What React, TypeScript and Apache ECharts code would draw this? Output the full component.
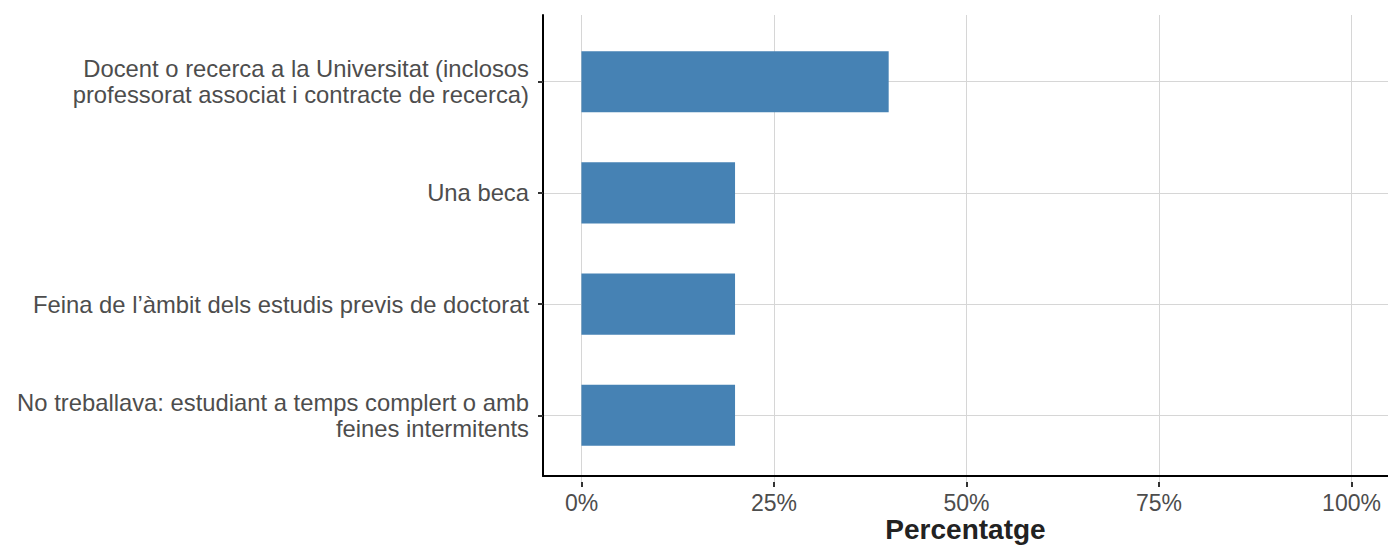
import React, { useEffect, useRef } from "react";
import * as echarts from "echarts";

const categories = [
  "Docent o recerca a la Universitat (inclosos\nprofessorat associat i contracte de recerca)",
  "Una beca",
  "Feina de l\u2019\u00e0mbit dels estudis previs de doctorat",
  "No treballava: estudiant a temps complert o amb\nfeines intermitents",
];
const percentages = [40, 20, 20, 20];
const xTicks = [0, 25, 50, 75, 100];
const xTitle = "Percentatge";

const FONT = "'Liberation Sans', Arial, sans-serif";

export default function App() {
  const ref = useRef<HTMLDivElement>(null);
  useEffect(() => {
    if (!ref.current) return;
    const chart = echarts.init(ref.current, null, { renderer: "svg" });
    const top = 15;
    const bottom = 482;
    const band = (bottom - top) / 4.2;
    chart.setOption({
      animation: false,
      backgroundColor: "#ffffff",
      textStyle: { fontFamily: FONT },
      grid: [
        { left: 543, top: top, width: 847, height: bottom - top, containLabel: false },
        { left: 581.5, top: top, width: 770, height: bottom - top, containLabel: false },
        { left: 543, top: top + 0.6 * band, width: 847, height: 3 * band, containLabel: false },
      ],
      xAxis: [
        {
          gridIndex: 0,
          type: "value",
          min: -5,
          max: 105,
          axisLine: { show: true, onZero: false, lineStyle: { color: "#000000", width: 2 } },
          axisTick: { show: false },
          axisLabel: { show: false },
          splitLine: { show: false },
          name: xTitle,
          nameLocation: "middle",
          nameGap: 40,
          nameTextStyle: { fontFamily: FONT, fontSize: 28, fontWeight: "bold", color: "#222222", lineHeight: 26 },
        },
        {
          gridIndex: 1,
          type: "value",
          min: xTicks[0],
          max: xTicks[xTicks.length - 1],
          interval: 25,
          axisLine: { show: false, onZero: false },
          axisTick: { show: true, length: 5, lineStyle: { color: "#333333", width: 2 } },
          axisLabel: {
            show: true,
            margin: 10,
            fontFamily: FONT,
            fontSize: 23,
            lineHeight: 22,
            color: "#4d4d4d",
            formatter: (v: number) => v + "%",
          },
          splitLine: { show: true, lineStyle: { color: "#d6d6d6", width: 1 } },
        },
        {
          gridIndex: 2,
          type: "value",
          min: -5,
          max: 105,
          show: false,
        },
      ],
      yAxis: [
        {
          gridIndex: 0,
          type: "value",
          min: 0,
          max: 1,
          axisLine: { show: true, onZero: false, lineStyle: { color: "#000000", width: 2 } },
          axisTick: { show: false },
          axisLabel: { show: false },
          splitLine: { show: false },
        },
        {
          gridIndex: 1,
          type: "value",
          show: false,
        },
        {
          gridIndex: 2,
          type: "category",
          data: categories,
          inverse: true,
          boundaryGap: false,
          axisLine: { show: false, onZero: false },
          axisTick: { show: true, length: 5, lineStyle: { color: "#333333", width: 2 } },
          axisLabel: {
            show: true,
            margin: 14,
            fontFamily: FONT,
            fontSize: 23.8,
            lineHeight: 26,
            color: "#4d4d4d",
            align: "right",
          },
          splitLine: { show: true, lineStyle: { color: "#d6d6d6", width: 1 } },
        },
      ],
      series: [
        {
          type: "bar",
          xAxisIndex: 2,
          yAxisIndex: 2,
          data: percentages,
          barWidth: "55%",
          itemStyle: { color: "#4682b4" },
          silent: true,
        },
      ],
    });
    return () => chart.dispose();
  }, []);
  return (
    <div
      ref={ref}
      style={{ position: "fixed", left: 0, top: 0, width: 1388, height: 548, background: "#fff" }}
    />
  );
}
